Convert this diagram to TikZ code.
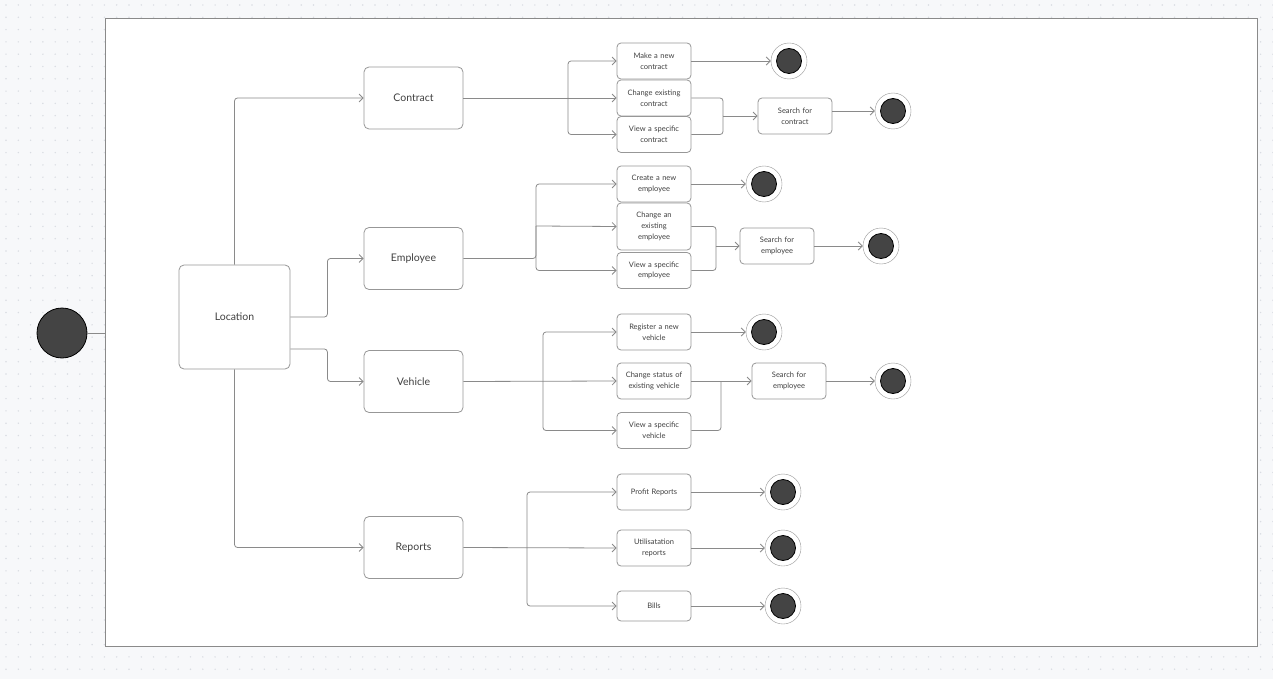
\documentclass[tikz,border=0pt]{standalone}
\usepackage{fontspec}
\setmainfont{Lato}
\usetikzlibrary{arrows.meta}
\definecolor{bgc}{HTML}{F7F8FA}
\definecolor{dotc}{HTML}{D9DCE2}
\definecolor{linec}{HTML}{8A8A8A}
\definecolor{boxc}{HTML}{979797}
\definecolor{txtc}{HTML}{404040}
\definecolor{darkc}{HTML}{444444}
\begin{document}
\begin{tikzpicture}[x=1pt, y=-1pt, >={Straight Barb[length=4pt,width=8pt]},
    bigbox/.style={draw=boxc, thick, rounded corners=5pt, fill=white, text=txtc,
      minimum width=99pt, minimum height=62pt, font=\fontsize{10.5}{12}\selectfont},
    smallbox/.style={draw=boxc, thick, rounded corners=4pt, fill=white, text=txtc,
      minimum width=74pt, minimum height=36pt, text width=70pt, align=center,
      inner sep=1pt, font=\fontsize{7.5}{10.7}\selectfont},
    endstate/.style={circle, draw=boxc, fill=white, minimum size=36pt, inner sep=0pt,
      path picture={\filldraw[fill=darkc, draw=black, thick]
        (path picture bounding box.center) circle (12.5pt);}},
    conn/.style={draw=linec, thick, rounded corners=3pt}]
  \useasboundingbox (0,0) rectangle (1273,679);
  \fill[bgc] (0,0) rectangle (1273,679);
  \foreach \i in {0,...,103}
    \foreach \j in {0,...,55}
      \fill[dotc] (\i*12.3+6,\j*12.3+5) circle (0.8);
  \draw[linec, thick, fill=white] (105,18) rectangle (1257,646);
  % start
  \node[circle, draw=black, thick, fill=darkc, minimum size=50pt, inner sep=0pt] (start) at (62,333) {};
  \coordinate (frame) at (105,333);
  \draw[conn] (start) -- (frame);
  % main states
  \node[bigbox, minimum width=111pt, minimum height=104pt] (loc) at (234.5,317) {Location};
  \node[bigbox] (contract) at (413.5,98) {Contract};
  \node[bigbox] (employee) at (413.5,258.5) {Employee};
  \node[bigbox] (vehicle) at (413.5,381.5) {Vehicle};
  \node[bigbox] (reports) at (413.5,547.5) {Reports};
  \draw[conn, ->] (loc.north) |- (contract.west);
  \draw[conn, ->] (loc.south) |- (reports.west);
  \draw[conn, ->] (loc.east) -- ++(37,0) |- (employee.west);
  \draw[conn, ->] ([yshift=-32pt]loc.east) -- ++(37,0) |- (vehicle.west);
  % contract
  \node[smallbox] (c1) at (654,61) {Make a new\\contract};
  \node[smallbox] (c2) at (654,98) {Change existing\\contract};
  \node[smallbox] (c3) at (654,134.5) {View a specific\\contract};
  \node[smallbox] (cs) at (795,116) {Search for\\contract};
  \node[endstate] (cend1) at (789,61) {};
  \node[endstate] (cend2) at (893,111) {};
  \coordinate (cj) at (568,98);
  \coordinate (cm) at (723,116);
  \draw[conn, ->] (contract.east) -- (c2.west);
  \draw[conn, ->] (cj) |- (c1.west);
  \draw[conn, ->] (cj) |- (c3.west);
  \draw[conn] (c2.east) -| (cm);
  \draw[conn] (c3.east) -| (cm);
  \draw[conn, ->] (cm) -- (cs.west);
  \draw[conn, ->] (c1.east) -- (cend1.west);
  \draw[conn, ->] ([yshift=5pt]cs.east) -- (cend2.west);
  % employee
  \node[smallbox] (e1) at (654,184) {Create a new\\employee};
  \node[smallbox, minimum height=47pt] (e2) at (654,226.5) {Change an\\existing\\employee};
  \node[smallbox] (e3) at (654,270.5) {View a specific\\employee};
  \node[smallbox] (es) at (777,246) {Search for\\employee};
  \node[endstate] (eend1) at (764,184) {};
  \node[endstate] (eend2) at (881,246) {};
  \coordinate (ej) at (536,226);
  \coordinate (em) at (716,246);
  \draw[conn] (employee.east) -| (ej);
  \draw[conn, ->] (ej) |- (e1.west);
  \draw[conn, ->] (ej) -- (e2.west);
  \draw[conn, ->] (ej) |- (e3.west);
  \draw[conn] (e2.east) -| (em);
  \draw[conn] (e3.east) -| (em);
  \draw[conn, ->] (em) -- (es.west);
  \draw[conn, ->] (e1.east) -- (eend1.west);
  \draw[conn, ->] (es.east) -- (eend2.west);
  % vehicle
  \node[smallbox] (v1) at (654,332) {Register a new\\vehicle};
  \node[smallbox] (v2) at (654,381) {Change status of\\existing vehicle};
  \node[smallbox] (v3) at (654,430.5) {View a specific\\vehicle};
  \node[smallbox] (vs) at (789,381) {Search for\\employee};
  \node[endstate] (vend1) at (764,332) {};
  \node[endstate] (vend2) at (893,381) {};
  \coordinate (vj) at (543,381);
  \coordinate (vm) at (721,381);
  \draw[conn, ->] (vehicle.east) -- (v2.west);
  \draw[conn, ->] (vj) |- (v1.west);
  \draw[conn, ->] (vj) |- (v3.west);
  \draw[conn, ->] (v2.east) -- (vs.west);
  \draw[conn] (v3.east) -| (vm);
  \draw[conn, ->] (v1.east) -- (vend1.west);
  \draw[conn, ->] (vs.east) -- (vend2.west);
  % reports
  \node[smallbox] (r1) at (654,492) {Profit Reports};
  \node[smallbox] (r2) at (654,548) {Utilisatation\\reports};
  \node[smallbox, minimum height=30pt] (r3) at (654,606) {Bills};
  \node[endstate] (rend1) at (783,492) {};
  \node[endstate] (rend2) at (783,548) {};
  \node[endstate] (rend3) at (783,606) {};
  \coordinate (rj) at (527,548);
  \draw[conn, ->] (reports.east) -- (r2.west);
  \draw[conn, ->] (rj) |- (r1.west);
  \draw[conn, ->] (rj) |- (r3.west);
  \draw[conn, ->] (r1.east) -- (rend1.west);
  \draw[conn, ->] (r2.east) -- (rend2.west);
  \draw[conn, ->] (r3.east) -- (rend3.west);
\end{tikzpicture}
\end{document}
